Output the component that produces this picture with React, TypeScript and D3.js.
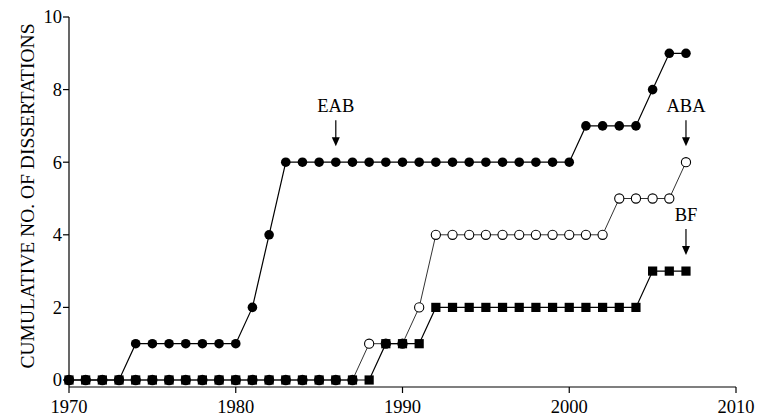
import React from "react";
import * as d3 from "d3";

const years: number[] = d3.range(1970, 2008);
const eab: number[] = [0,0,0,0,1,1,1,1,1,1,1,2,4,6,6,6,6,6,6,6,6,6,6,6,6,6,6,6,6,6,6,7,7,7,7,8,9,9];
const aba: number[] = [0,0,0,0,0,0,0,0,0,0,0,0,0,0,0,0,0,0,1,1,1,2,4,4,4,4,4,4,4,4,4,4,4,5,5,5,5,6];
const bf: number[]  = [0,0,0,0,0,0,0,0,0,0,0,0,0,0,0,0,0,0,0,1,1,1,2,2,2,2,2,2,2,2,2,2,2,2,2,3,3,3];
const xTicks: number[] = [1970, 1980, 1990, 2000, 2010];
const yTicks: number[] = [0, 2, 4, 6, 8, 10];
const annotations = [
  { label: "EAB", year: 1986, value: 6 },
  { label: "ABA", year: 2007, value: 6 },
  { label: "BF", year: 2007, value: 3 },
];

const W = 758, H = 416;
const FONT = "'Liberation Serif', 'Times New Roman', serif";

export default function App() {
  const x = d3.scaleLinear().domain([1970, 2010]).range([69, 736]);
  const y = d3.scaleLinear().domain([0, 10]).range([380, 17]);
  const axisY = 387;
  const line = d3.line<number>().x((_, i) => x(years[i])).y((d) => y(d));

  return (
    <svg width={W} height={H} style={{ position: "absolute", left: 0, top: 0, background: "#fff" }} fontFamily={FONT}>
      <rect width={W} height={H} fill="#fff" />
      {/* axes */}
      <line x1={x(1970)} x2={x(1970)} y1={y(10)} y2={axisY} stroke="#000" strokeWidth={1.2} />
      <line x1={x(1970)} x2={x(2010)} y1={axisY} y2={axisY} stroke="#000" strokeWidth={1.2} />
      {yTicks.map((t) => (
        <g key={"y" + t}>
          <line x1={x(1970) - 6} x2={x(1970)} y1={y(t)} y2={y(t)} stroke="#000" strokeWidth={1.2} />
          <text x={x(1970) - 7} y={y(t)} dy="0.35em" textAnchor="end" fontSize={18.5}>{t}</text>
        </g>
      ))}
      {xTicks.map((t) => (
        <g key={"x" + t}>
          <line x1={x(t)} x2={x(t)} y1={axisY} y2={axisY + 6} stroke="#000" strokeWidth={1.2} />
          <text x={x(t)} y={413} textAnchor="middle" fontSize={18.5}>{t}</text>
        </g>
      ))}
      <text transform={`translate(34,196) rotate(-90)`} textAnchor="middle" fontSize={19.5}>
        CUMULATIVE NO. OF DISSERTATIONS
      </text>

      {/* EAB */}
      <path d={line(eab) || ""} fill="none" stroke="#000" strokeWidth={1.2} />
      {eab.map((v, i) => (
        <circle key={"e" + i} cx={x(years[i])} cy={y(v)} r={4.8} fill="#000" />
      ))}
      {/* ABA */}
      <path d={line(aba) || ""} fill="none" stroke="#333" strokeWidth={1} />
      {aba.map((v, i) => (
        <circle key={"a" + i} cx={x(years[i])} cy={y(v)} r={4.6} fill="#fff" stroke="#000" strokeWidth={1.1} />
      ))}
      {/* BF */}
      <path d={line(bf) || ""} fill="none" stroke="#000" strokeWidth={1.2} />
      {bf.map((v, i) => (
        <rect key={"b" + i} x={x(years[i]) - 4.6} y={y(v) - 4.6} width={9.2} height={9.2} fill="#000" />
      ))}

      {/* annotations */}
      {annotations.map((a) => {
        const ax = x(a.year);
        const tip = y(a.value) - 16;
        const top = tip - 26;
        return (
          <g key={a.label}>
            <text x={ax} y={top - 8} textAnchor="middle" fontSize={18.5}>{a.label}</text>
            <line x1={ax} x2={ax} y1={top} y2={tip - 6} stroke="#000" strokeWidth={1.2} />
            <path d={`M${ax - 4},${tip - 9}L${ax + 4},${tip - 9}L${ax},${tip}Z`} fill="#000" />
          </g>
        );
      })}
    </svg>
  );
}
